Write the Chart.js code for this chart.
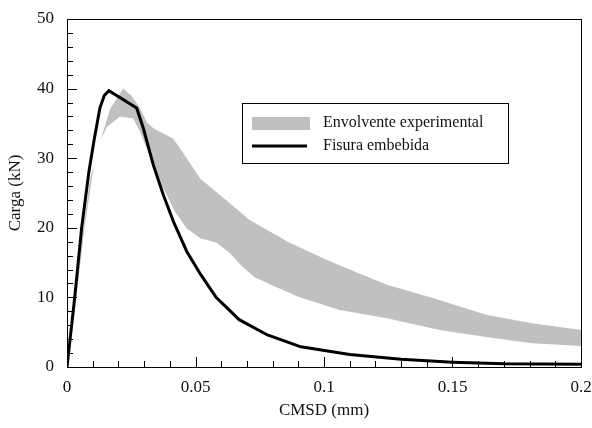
<!DOCTYPE html>
<html>
<head>
<meta charset="utf-8">
<script src="https://cdn.jsdelivr.net/npm/chart.js@4.4.0/dist/chart.umd.min.js"></script>
<style>
  html, body { margin: 0; padding: 0; background: #fff; }
  #wrap { width: 592px; height: 428px; }
</style>
</head>
<body>
<div id="wrap"><canvas id="chart" width="592" height="428"></canvas></div>
<script>
// numerical model curve
const cmsdModel = [0, 0.003, 0.0057, 0.0085, 0.0105, 0.0128, 0.0145, 0.0163, 0.0271, 0.0297, 0.0336,
  0.0375, 0.0414, 0.0466, 0.052, 0.058, 0.067, 0.078, 0.091, 0.11, 0.13, 0.15, 0.17, 0.2];
const loadModel = [0, 10, 20, 28, 32.5, 37.2, 39, 39.7, 37.2, 34.3, 29,
  24.7, 20.9, 16.6, 13.3, 10, 6.8, 4.6, 2.9, 1.8, 1.1, 0.7, 0.45, 0.4];

// experimental envelope, upper and lower edges
const cmsdUpper = [0, 0.003, 0.006, 0.009, 0.0128, 0.0167, 0.0218, 0.025, 0.0284, 0.031, 0.0336, 0.0414,
  0.0466, 0.0518, 0.0595, 0.0712, 0.0868, 0.101, 0.1074, 0.1245, 0.1424, 0.163, 0.181, 0.2];
const loadUpper = [0, 9, 19, 27, 32.2, 37, 40, 39, 37.2, 35.2, 34.3, 32.8,
  30, 27.1, 24.7, 21.1, 17.8, 15.4, 14.4, 11.8, 9.9, 7.5, 6.3, 5.3];
const cmsdLower = [0, 0.003, 0.0068, 0.0105, 0.013, 0.0155, 0.0206, 0.0258, 0.0284, 0.0336, 0.0375, 0.042,
  0.0466, 0.0518, 0.058, 0.063, 0.068, 0.073, 0.08, 0.09, 0.106, 0.1245, 0.145, 0.163, 0.181, 0.2];
const loadLower = [0, 8, 20, 29, 32.5, 34.5, 36, 35.7, 33.8, 29, 25.7, 22.3,
  19.9, 18.5, 17.9, 16.5, 14.5, 12.9, 11.7, 10.1, 8.2, 7.0, 5.3, 4.3, 3.4, 3.0];

const xTickLabels = [0, 0.05, 0.1, 0.15, 0.2];
const yTickLabels = [0, 10, 20, 30, 40, 50];

const seriesNames = ['Envolvente experimental', 'Fisura embebida'];
const bandColor = 'rgb(192,192,192)';
const textColor = '#111';
const serif = "'Liberation Serif', 'DejaVu Serif', serif";

const modelPoints = cmsdModel.map((x, i) => ({ x, y: loadModel[i] }));
// closed outline: upper edge left->right, lower edge right->left
const bandPoints = cmsdUpper.map((x, i) => ({ x, y: loadUpper[i] }))
  .concat(cmsdLower.map((x, i) => ({ x, y: loadLower[i] })).reverse());

const isOn = (v, step) => Math.abs(v / step - Math.round(v / step)) < 1e-6;

// ticks pointing into the plot, plus the frame
const frameTicks = {
  id: 'frameTicks',
  afterDatasetsDraw(chart) {
    const { ctx, chartArea: a, scales } = chart;
    ctx.save();
    ctx.strokeStyle = '#000';
    ctx.lineWidth = 1;
    ctx.beginPath();
    scales.y.ticks.forEach(t => {
      const py = Math.round(scales.y.getPixelForValue(t.value)) + 0.5;
      const len = yTickLabels.some(v => Math.abs(v - t.value) < 1e-6) ? 10 : 6;
      ctx.moveTo(a.left, py);
      ctx.lineTo(a.left + len, py);
    });
    scales.x.ticks.forEach(t => {
      const px = Math.round(scales.x.getPixelForValue(t.value)) + 0.5;
      const len = xTickLabels.some(v => Math.abs(v - t.value) < 1e-6) ? 10 : 6;
      ctx.moveTo(px, a.bottom);
      ctx.lineTo(px, a.bottom - len);
    });
    ctx.stroke();
    ctx.strokeRect(Math.round(a.left) + 0.5, Math.round(a.top) + 0.5,
      Math.round(a.right - a.left), Math.round(a.bottom - a.top));
    ctx.restore();
  }
};

// boxed legend inside the plot
const boxLegend = {
  id: 'boxLegend',
  afterDraw(chart) {
    const { ctx } = chart;
    const ds = chart.data.datasets;
    const x0 = 242.5, y0 = 103.5, w = 266, h = 60;
    ctx.save();
    ctx.fillStyle = '#fff';
    ctx.fillRect(x0, y0, w, h);
    ctx.strokeStyle = '#000';
    ctx.lineWidth = 1;
    ctx.strokeRect(x0, y0, w, h);
    ctx.fillStyle = ds[0].backgroundColor;
    ctx.fillRect(252, 117, 58, 13);
    ctx.strokeStyle = ds[1].borderColor;
    ctx.lineWidth = 3;
    ctx.beginPath();
    ctx.moveTo(252, 146);
    ctx.lineTo(307, 146);
    ctx.stroke();
    ctx.fillStyle = textColor;
    ctx.font = '16px ' + serif;
    ctx.textBaseline = 'middle';
    ctx.fillText(ds[0].label, 323, 123);
    ctx.fillText(ds[1].label, 323, 146);
    ctx.restore();
  }
};

new Chart(document.getElementById('chart'), {
  type: 'line',
  data: {
    datasets: [
      {
        label: seriesNames[0],
        data: bandPoints,
        fill: 'shape',
        backgroundColor: bandColor,
        borderColor: bandColor,
        borderWidth: 0,
        pointRadius: 0,
        tension: 0,
        order: 2
      },
      {
        label: seriesNames[1],
        data: modelPoints,
        fill: false,
        borderColor: '#000',
        borderWidth: 3,
        pointRadius: 0,
        tension: 0,
        borderJoinStyle: 'miter',
        order: 1
      }
    ]
  },
  options: {
    responsive: false,
    animation: false,
    parsing: false,
    layout: { padding: { top: 19, right: 11, left: 0, bottom: 0 } },
    plugins: { legend: { display: false }, tooltip: { enabled: false } },
    scales: {
      x: {
        type: 'linear',
        min: 0,
        max: 0.2,
        grid: { display: false, drawTicks: false },
        border: { display: false },
        ticks: {
          stepSize: 0.01,
          autoSkip: false,
          maxRotation: 0,
          padding: 10,
          color: textColor,
          font: { family: serif, size: 17 },
          callback: v => (isOn(v, 0.05) ? String(Math.round(v * 100) / 100) : '')
        },
        title: {
          display: true,
          text: 'CMSD (mm)',
          color: textColor,
          font: { family: serif, size: 17 },
          padding: { top: 0, bottom: 7 }
        },
        afterFit: s => { s.height = 61; s.paddingLeft = 0; s.paddingRight = 0; }
      },
      y: {
        type: 'linear',
        min: 0,
        max: 50,
        grid: { display: false, drawTicks: false },
        border: { display: false },
        ticks: {
          stepSize: 2,
          autoSkip: false,
          padding: 13,
          color: textColor,
          font: { family: serif, size: 17 },
          callback: v => (isOn(v, 10) ? String(v) : '')
        },
        title: {
          display: true,
          text: 'Carga (kN)',
          color: textColor,
          font: { family: serif, size: 17 },
          padding: { top: 5, bottom: 0 }
        },
        afterFit: s => { s.width = 67; s.paddingTop = 0; s.paddingBottom = 0; }
      }
    }
  },
  plugins: [frameTicks, boxLegend]
});
</script>
</body>
</html>
